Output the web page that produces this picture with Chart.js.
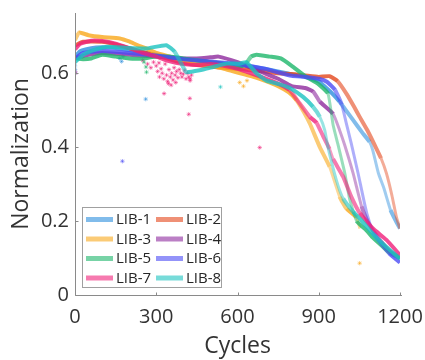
<!DOCTYPE html>
<html><head><meta charset="utf-8">
<script src="https://cdn.jsdelivr.net/npm/chart.js@4"></script>
<style>html,body{margin:0;padding:0;background:#fff}#wrap{width:425px;height:360px;position:relative}</style>
</head><body><div id="wrap"><canvas id="c" width="425" height="360"></canvas></div>
<script>
// ---- data ----
const seriesNames = ['LIB-1','LIB-2','LIB-3','LIB-4','LIB-5','LIB-6','LIB-7','LIB-8'];
const xTicks = [0, 300, 600, 900, 1200];
const xTickLabels = ['0', '300', '600', '900', '1200'];
const yTicks = [0, 0.2, 0.4, 0.6];
const yTickLabels = ['0', '0.2', '0.4', '0.6'];

const lib1Cycles = [0,20,60,100,150,200,300,400,500,600,700,800,850,900,916,950,977,1000,1027,1060,1088,1100,1120,1140,1165,1185,1200];
const lib1Values = [0.645,0.66,0.668,0.67,0.668,0.662,0.65,0.638,0.63,0.622,0.612,0.597,0.59,0.578,0.568,0.545,0.523,0.5,0.473,0.44,0.414,0.39,0.33,0.29,0.23,0.2,0.18];

const lib2Cycles = [0,30,100,150,200,250,300,350,400,450,500,550,600,650,700,750,800,850,900,940,970,1002,1030,1051,1080,1107,1130,1150,1170,1187,1200];
const lib2Values = [0.675,0.685,0.685,0.678,0.668,0.658,0.648,0.638,0.628,0.622,0.618,0.615,0.612,0.608,0.605,0.6,0.598,0.594,0.59,0.592,0.578,0.545,0.51,0.482,0.445,0.405,0.37,0.329,0.27,0.21,0.18];

const lib3Cycles = [0,15,50,100,165,200,230,270,300,350,400,450,500,550,600,650,700,750,790,818,845,867,904,940,977,1002,1039,1052];
const lib3Values = [0.69,0.71,0.703,0.698,0.694,0.686,0.676,0.665,0.655,0.645,0.635,0.627,0.62,0.612,0.602,0.592,0.58,0.565,0.548,0.527,0.495,0.464,0.4,0.347,0.266,0.234,0.21,0.18];

const lib4Cycles = [0,50,100,200,300,400,450,500,530,600,650,700,750,800,850,880,904,953,977,996,1027,1058,1080,1100,1130,1160,1200];
const lib4Values = [0.64,0.65,0.655,0.65,0.645,0.64,0.64,0.643,0.645,0.63,0.615,0.6,0.585,0.565,0.56,0.55,0.523,0.49,0.446,0.405,0.329,0.24,0.2,0.175,0.145,0.12,0.1];

const lib5Cycles = [0,30,60,100,150,200,250,300,350,400,450,500,550,600,630,650,670,720,760,800,850,900,934,953,970,996,1014,1040,1076,1100,1130,1160,1200];
const lib5Values = [0.64,0.638,0.64,0.65,0.645,0.64,0.64,0.645,0.645,0.64,0.635,0.63,0.625,0.615,0.625,0.645,0.65,0.645,0.64,0.62,0.592,0.57,0.545,0.46,0.41,0.33,0.26,0.2,0.175,0.155,0.135,0.115,0.1];

const lib6Cycles = [0,30,100,200,300,400,500,600,700,800,850,900,930,960,985,1000,1020,1045,1076,1100,1130,1160,1200];
const lib6Values = [0.64,0.655,0.66,0.655,0.648,0.638,0.632,0.625,0.612,0.593,0.59,0.585,0.577,0.555,0.515,0.47,0.41,0.33,0.225,0.17,0.14,0.113,0.088];

const lib7Cycles = [0,20,60,100,150,200,250,300,350,400,450,500,550,600,650,700,750,793,830,867,892,916,940,953,990,1020,1051,1100,1150,1200];
const lib7Values = [0.665,0.68,0.688,0.687,0.68,0.668,0.655,0.645,0.632,0.625,0.622,0.625,0.62,0.612,0.6,0.587,0.572,0.554,0.518,0.482,0.466,0.43,0.395,0.368,0.32,0.266,0.222,0.18,0.149,0.108];

const lib8Cycles = [0,30,80,120,200,264,337,368,399,411,460,510,559,608,633,670,707,756,793,842,879,904,922,934,965,990,1027,1060,1100,1150,1200];
const lib8Values = [0.63,0.65,0.665,0.672,0.668,0.667,0.676,0.658,0.617,0.603,0.608,0.617,0.626,0.626,0.63,0.6,0.58,0.57,0.56,0.536,0.509,0.482,0.446,0.4,0.311,0.261,0.225,0.2,0.165,0.13,0.098];

// stray points (cycle, value, series index)
const strayCycles = [300,305,312,318,322,328,333,338,342,347,352,357,362,366,370,375,380,385,390,395,400,405,410,415,420,425,430,345,355,372,329,424,420,425,682,268,280,290,250,310,
                     261,165,172,177,0,0, 175, 262,264,255, 537, 608,622,635,1051, 0,2];
const strayValues = [0.62,0.605,0.59,0.612,0.6,0.585,0.625,0.595,0.578,0.61,0.59,0.6,0.582,0.615,0.595,0.605,0.588,0.61,0.6,0.59,0.598,0.608,0.585,0.6,0.59,0.58,0.595,0.572,0.568,0.575,0.545,0.532,0.489,0.585,0.399,0.625,0.615,0.63,0.635,0.628,
                     0.53,0.64,0.632,0.645,0.62,0.61, 0.362, 0.617,0.603,0.63, 0.563, 0.575,0.565,0.58,0.086, 0.605,0.6];
const straySeries = [6,6,6,6,6,6,6,6,6,6,6,6,6,6,6,6,6,6,6,6,6,6,6,6,6,6,6,6,6,6,6,6,6,6,6,6,6,6,6,6,
                     0,0,0,0,0,0, 5, 4,4,4, 7, 2,2,2,2, 3,3];

// ---- styles ----
const seriesRGB = [[45,143,221],[228,70,27],[249,168,26],[142,42,158],[29,182,106],[75,75,245],[240,33,122],[28,195,192]];
const FONT = '"Open Sans", "DejaVu Sans", sans-serif';
const TXT = '#333333';
const AX = '#8a8a8a';

const cyc = [lib1Cycles,lib2Cycles,lib3Cycles,lib4Cycles,lib5Cycles,lib6Cycles,lib7Cycles,lib8Cycles];
const val = [lib1Values,lib2Values,lib3Values,lib4Values,lib5Values,lib6Values,lib7Values,lib8Values];
const rgba = (c, a) => `rgba(${c[0]},${c[1]},${c[2]},${a})`;

const slope = ctx => Math.abs(ctx.p1.y - ctx.p0.y) / Math.max(Math.abs(ctx.p1.x - ctx.p0.x), 0.01);

const datasets = seriesNames.map((name, i) => ({
  label: name,
  data: cyc[i].map((c, k) => ({x: c, y: val[i][k]})),
  showLine: true,
  borderWidth: 4,
  borderColor: rgba(seriesRGB[i], 0.8),
  pointRadius: 0,
  tension: 0.15,
  order: 20 - i,
  segment: {
    borderColor: ctx => { const s = slope(ctx); return rgba(seriesRGB[i], s > 2.5 ? 0.45 : (s > 1.2 ? 0.6 : 0.8)); },
    borderWidth: ctx => slope(ctx) > 2.5 ? 3 : 4
  }
}));

seriesNames.forEach((name, i) => {
  const pts = [];
  strayCycles.forEach((c, k) => { if (straySeries[k] === i) pts.push({x: c, y: strayValues[k]}); });
  if (pts.length) datasets.push({
    label: name + ' stray',
    data: pts,
    showLine: false,
    pointStyle: 'star',
    pointRadius: 2.2,
    borderWidth: 1,
    borderColor: rgba(seriesRGB[i], 0.5),
    backgroundColor: rgba(seriesRGB[i], 0.5),
    order: 30
  });
});

const frame = {
  id: 'frame',
  afterDraw(chart) {
    const {ctx, chartArea: a, scales} = chart;
    ctx.save();
    ctx.strokeStyle = AX; ctx.lineWidth = 1;
    const L = Math.round(a.left) + 0.5, B = Math.round(a.bottom) + 0.5;
    ctx.beginPath();
    ctx.moveTo(L, a.top); ctx.lineTo(L, B); ctx.lineTo(a.right + 2, B);
    xTicks.forEach(v => { const x = Math.round(scales.x.getPixelForValue(v)) + 0.5; ctx.moveTo(x, B); ctx.lineTo(x, B - 3); });
    yTicks.forEach(v => { const y = Math.round(scales.y.getPixelForValue(v)) + 0.5; ctx.moveTo(L, y); ctx.lineTo(L + 3, y); });
    ctx.stroke();
    // legend box
    const bx = a.left + 7.5, by = 207.5, bw = 139, bh = 80;
    ctx.fillStyle = '#ffffff';
    ctx.fillRect(bx, by, bw, bh);
    ctx.strokeStyle = '#a0a0a0';
    ctx.strokeRect(bx, by, bw, bh);
    ctx.font = '15px ' + FONT;
    ctx.textBaseline = 'middle';
    ctx.textAlign = 'left';
    const rowY = [12, 31.5, 51, 70.5];
    const colX = [3.5, 73.5];
    seriesNames.forEach((name, i) => {
      const col = i % 2, row = Math.floor(i / 2);
      const x0 = bx + colX[col], y0 = by + rowY[row];
      ctx.strokeStyle = rgba(seriesRGB[i], 0.6);
      ctx.lineWidth = 5;
      ctx.beginPath(); ctx.moveTo(x0, y0); ctx.lineTo(x0 + 27, y0); ctx.stroke();
      ctx.fillStyle = '#262626';
      ctx.fillText(name, x0 + 30, y0 + 0.5);
    });
    ctx.restore();
  }
};

new Chart(document.getElementById('c'), {
  type: 'scatter',
  data: {datasets},
  options: {
    responsive: false,
    devicePixelRatio: 1,
    animation: false,
    layout: {padding: {top: 13, right: 25, left: 0, bottom: 0}},
    plugins: {legend: {display: false}, tooltip: {enabled: false}},
    scales: {
      x: {
        type: 'linear', min: 0, max: 1200,
        afterBuildTicks: s => { s.ticks = xTicks.map(v => ({value: v})); },
        afterFit: s => { s.height = 65; s.paddingLeft = 0; s.paddingRight = 0; },
        grid: {display: false, drawTicks: false},
        border: {display: false},
        ticks: {padding: 10, maxRotation: 0, color: TXT, font: {family: FONT, size: 20},
                callback: (v, i) => xTickLabels[i]},
        title: {display: true, text: 'Cycles', color: TXT, font: {family: FONT, size: 23}, padding: {top: 0, bottom: 0}}
      },
      y: {
        type: 'linear', min: 0, max: 0.763,
        afterBuildTicks: s => { s.ticks = yTicks.map(v => ({value: v})); },
        afterFit: s => { s.width = 75; s.paddingTop = 0; s.paddingBottom = 0; },
        grid: {display: false, drawTicks: false},
        border: {display: false},
        ticks: {padding: 6, color: TXT, font: {family: FONT, size: 20},
                callback: (v, i) => yTickLabels[i]},
        title: {display: true, text: 'Normalization', color: TXT, font: {family: FONT, size: 23}, padding: {top: 8, bottom: 0}}
      }
    }
  },
  plugins: [frame]
});
</script></body></html>
